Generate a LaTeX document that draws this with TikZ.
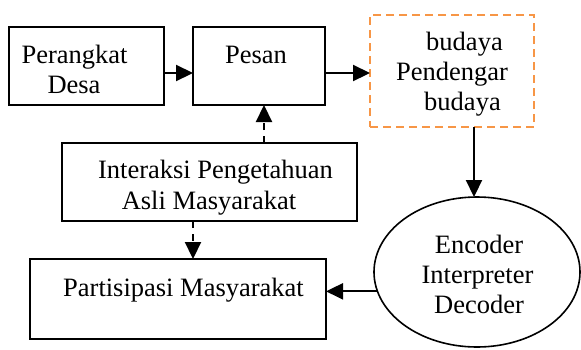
\documentclass[tikz,border=0pt]{standalone}
\usepackage{fontspec}
\setmainfont{Liberation Serif}
\usetikzlibrary{arrows.meta,shapes.geometric,calc}
\definecolor{orng}{RGB}{247,150,70}
\begin{document}
\begin{tikzpicture}[x=1pt,y=-1pt,
  box/.style={draw,line width=2pt,rectangle,inner sep=0pt,outer sep=0pt},
  txt/.style={anchor=base,inner sep=0pt,font=\fontsize{26.5}{30}\selectfont},
  arr/.style={line width=2.2pt,-{Triangle[length=17pt,width=16pt]}},
  darr/.style={arr,dash pattern=on 7pt off 6pt},
]
\useasboundingbox (0,0) rectangle (581,349);
% boxes
\node[box,minimum width=155pt,minimum height=78pt] (per) at (86.5,66) {};
\node[box,minimum width=132pt,minimum height=78pt] (pesan) at (259,66) {};
\node[draw=orng,line width=2pt,dash pattern=on 8pt off 5pt,rectangle,inner sep=0pt,outer sep=0pt,
      minimum width=164pt,minimum height=112pt] (bud) at (452,71) {};
\node[box,minimum width=295pt,minimum height=78pt] (inter) at (209.5,182) {};
\node[box,minimum width=296pt,minimum height=80pt] (part) at (178,299) {};
\node[draw,ellipse,line width=1.6pt,inner sep=0pt,outer sep=0pt,
      minimum width=206pt,minimum height=150pt] (ell) at (477,272) {};
% texts
\node[txt] (t1) at (74.5,63) {Perangkat};
\node[txt] (t2) at (74,93) {Desa};
\node[txt] (t3) at (256,63) {Pesan};
\node[txt] (t4) at (464.5,50) {budaya};
\node[txt] (t5) at (452,80) {Pendengar};
\node[txt] (t6) at (462.5,110) {budaya};
\node[txt] (t7) at (215.5,178) {Interaksi Pengetahuan};
\node[txt] (t8) at (209,209) {Asli Masyarakat};
\node[txt] (t9) at (183.5,296) {Partisipasi Masyarakat};
\node[txt] (t10) at (479,253) {Encoder};
\node[txt] (t11) at (477.5,283) {Interpreter};
\node[txt] (t12) at (479,313) {Decoder};
% connectors
\draw[arr] (per.east |- 0,73) -- (pesan.west |- 0,73);
\draw[arr] (pesan.east |- 0,73) -- (bud.west |- 0,73);
\draw[arr] (bud.south -| 474,0) -- (ell.north -| 474,0);
\draw[arr] (ell.191) -- (ell.191 -| part.east);
\draw[darr] (inter.north -| 264,0) -- (pesan.south -| 264,0);
\draw[darr] (inter.south -| 193,0) -- (part.north -| 193,0);
\end{tikzpicture}
\end{document}
